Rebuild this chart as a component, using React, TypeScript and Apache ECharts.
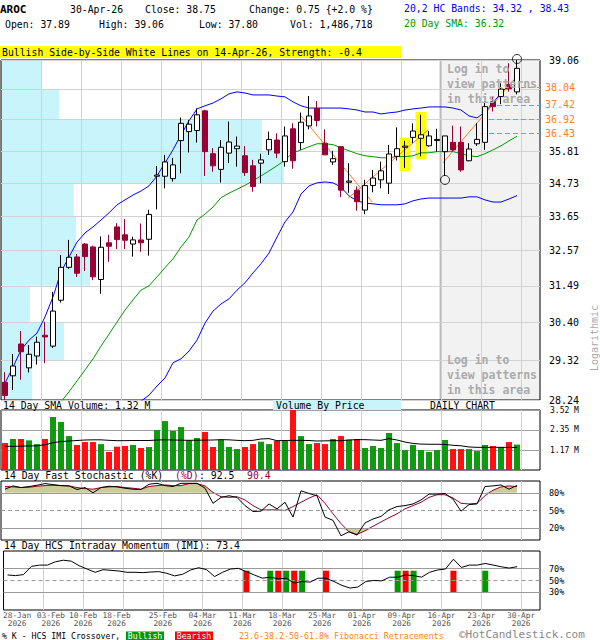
import React, { useEffect, useRef } from 'react';
import * as echarts from 'echarts';

const dates = ['28-Jan','29-Jan','30-Jan','02-Feb','03-Feb','04-Feb','05-Feb','06-Feb','09-Feb','10-Feb','11-Feb','12-Feb','13-Feb','17-Feb','18-Feb','19-Feb','20-Feb','23-Feb','24-Feb','25-Feb','26-Feb','27-Feb','02-Mar','03-Mar','04-Mar','05-Mar','06-Mar','09-Mar','10-Mar','11-Mar','12-Mar','13-Mar','16-Mar','17-Mar','18-Mar','19-Mar','20-Mar','23-Mar','24-Mar','25-Mar','26-Mar','27-Mar','30-Mar','31-Mar','01-Apr','02-Apr','06-Apr','07-Apr','08-Apr','09-Apr','10-Apr','13-Apr','14-Apr','15-Apr','16-Apr','17-Apr','20-Apr','21-Apr','22-Apr','23-Apr','24-Apr','27-Apr','28-Apr','29-Apr','30-Apr'];

const open = [28.72,28.90,29.79,29.12,29.45,30.04,29.73,31.06,32.05,32.37,32.77,32.68,31.68,32.81,33.31,33.06,32.77,32.90,32.92,34.96,34.96,34.88,36.17,36.48,36.52,37.21,35.72,35.19,35.74,35.89,35.65,35.31,35.40,35.85,36.19,35.45,36.58,36.10,36.68,37.30,36.08,35.44,35.96,34.76,34.50,33.85,34.65,34.84,34.73,35.63,35.94,36.28,36.25,35.99,36.17,35.79,36.11,36.11,35.48,36.06,36.11,37.54,37.72,38.16,37.89];
const high = [29.00,29.51,30.16,29.76,30.00,30.43,31.31,32.43,32.90,32.46,32.80,32.72,33.01,33.06,33.43,33.56,33.00,33.42,33.86,35.30,35.68,35.58,36.97,36.89,37.30,37.25,35.91,36.19,36.83,36.31,35.98,35.51,35.72,36.48,36.42,36.66,36.77,37.15,37.74,37.56,36.56,35.82,35.98,35.40,34.62,34.84,35.17,35.45,36.02,36.63,36.16,36.77,37.07,36.50,36.58,36.33,36.69,36.66,36.08,36.77,37.54,37.72,38.20,38.94,39.06];
const low = [28.24,28.51,28.79,28.99,29.21,29.25,29.68,30.99,32.00,31.76,31.94,31.66,31.25,32.22,32.61,32.61,32.38,32.53,32.41,33.87,34.56,34.78,35.06,35.76,36.10,34.97,35.11,34.75,35.40,35.28,34.97,34.45,34.73,35.68,35.57,35.28,35.21,35.85,36.56,36.66,35.68,35.34,34.27,34.41,33.83,33.72,34.43,34.56,34.37,35.49,35.24,36.08,35.63,35.96,35.79,34.97,35.79,35.11,35.46,35.99,35.85,37.19,37.45,37.90,37.80];
const close = [28.36,29.17,29.57,29.50,29.84,29.99,30.74,32.05,32.36,31.87,32.38,31.76,32.67,32.70,32.91,32.89,32.90,32.81,33.71,35.00,35.44,35.34,36.77,36.74,37.07,35.79,35.31,35.94,36.12,35.98,35.08,34.62,35.51,36.21,35.74,36.33,35.48,36.81,37.03,36.87,35.68,35.55,34.50,34.80,34.12,34.65,34.90,35.14,35.71,35.89,35.98,36.50,36.37,36.33,36.21,36.33,35.85,35.17,35.88,36.21,37.36,37.36,37.99,38.00,38.75];

// volume in millions of shares
const volume = [1.58,1.82,1.82,1.74,1.52,1.82,3.11,2.82,1.99,1.47,1.64,1.64,1.52,1.06,1.37,1.41,1.47,1.29,1.35,2.35,2.87,2.29,2.52,1.74,1.88,2.23,1.35,1.78,1.35,1.23,1.35,1.52,1.66,1.52,1.70,1.70,3.52,1.99,1.52,1.58,1.52,1.82,1.99,1.78,1.82,1.29,1.41,1.29,2.17,1.58,1.17,1.47,1.17,1.06,1.17,1.76,1.23,1.23,1.23,1.11,1.47,1.41,1.35,1.64,1.49];
const volSma = [1.39,1.39,1.40,1.41,1.42,1.48,1.60,1.67,1.70,1.73,1.76,1.77,1.77,1.74,1.72,1.72,1.73,1.73,1.73,1.76,1.77,1.76,1.75,1.74,1.75,1.75,1.76,1.78,1.77,1.74,1.72,1.74,1.82,1.84,1.72,1.73,1.74,1.74,1.73,1.70,1.71,1.72,1.72,1.76,1.78,1.78,1.76,1.74,1.84,1.76,1.64,1.56,1.52,1.51,1.51,1.50,1.45,1.42,1.35,1.33,1.33,1.33,1.33,1.33,1.32];

const upperBand = [28.70,29.14,29.62,29.90,30.10,30.57,31.16,31.91,32.37,32.83,33.12,33.31,33.53,33.76,34.02,34.18,34.34,34.47,34.64,34.97,35.41,35.85,36.37,36.86,37.28,37.39,37.49,37.64,37.82,37.89,37.85,37.78,37.78,37.78,37.74,37.71,37.53,37.39,37.31,37.31,37.31,37.31,37.31,37.28,37.24,37.17,37.17,37.10,37.14,37.17,37.24,37.28,37.31,37.35,37.35,37.35,37.31,37.24,37.03,36.96,37.17,37.49,37.85,38.14,38.43];
const sma20 = [26.10,26.40,26.70,27.00,27.30,27.60,27.89,28.19,28.46,28.76,29.06,29.37,29.73,30.07,30.42,30.77,31.07,31.36,31.49,31.76,32.04,32.31,32.68,32.99,33.53,33.72,33.95,34.25,34.40,34.53,34.66,34.81,34.97,35.14,35.31,35.51,35.75,35.85,35.96,36.06,36.06,36.03,35.92,35.82,35.72,35.65,35.62,35.58,35.58,35.62,35.62,35.65,35.75,35.75,35.79,35.79,35.79,35.72,35.65,35.62,35.72,35.85,35.99,36.16,36.32];
const lowerBand = [24.79,24.98,25.17,25.36,25.56,25.75,25.95,26.15,26.35,26.55,26.75,26.95,27.16,27.37,27.58,27.79,28.00,28.21,28.37,28.62,28.84,29.26,29.37,29.59,29.90,30.39,30.74,30.95,31.10,31.36,31.58,31.88,32.16,32.49,32.99,33.47,33.79,34.37,34.64,34.74,34.77,34.74,34.60,34.31,34.15,34.08,34.05,34.02,34.02,34.02,34.05,34.15,34.21,34.24,34.24,34.24,34.24,34.24,34.28,34.28,34.18,34.11,34.11,34.21,34.32];

const stochK = [86.1,91.7,88.9,90.6,92.8,95.6,93.9,92.2,91.7,85.6,88.9,80.0,88.9,91.1,90.0,87.8,86.1,85.6,94.4,96.1,92.2,90.6,96.1,96.1,96.1,87.8,62.2,72.2,75.0,72.2,58.3,48.3,48.9,61.1,52.8,63.9,38.9,83.3,78.9,75.0,38.9,33.3,7.2,13.9,8.3,28.9,35.6,40.0,51.1,56.7,58.3,61.1,67.8,77.8,77.8,78.9,69.4,48.9,60.0,61.1,90.6,91.7,93.3,86.1,92.5];
const stochD = [90.6,90.0,88.9,89.4,91.1,92.2,92.8,92.2,91.7,88.9,87.2,86.1,88.9,90.0,90.6,88.9,87.8,86.1,90.6,92.2,93.3,92.2,92.2,95.6,95.6,91.7,80.6,73.3,72.2,73.3,67.8,58.3,51.1,51.1,51.1,50.0,56.7,63.9,71.1,76.7,62.2,44.4,27.8,13.9,9.4,15.6,23.3,30.6,37.8,44.4,52.8,58.3,63.9,72.2,76.7,76.7,71.1,62.2,61.1,62.2,75.0,84.4,90.0,91.7,90.4];
const imi = [59.4,58.3,60.0,73.9,76.1,76.1,81.7,84.4,82.8,75.0,69.4,63.9,68.3,67.2,66.1,63.9,63.9,63.3,64.4,65.0,62.2,57.8,60.6,67.8,71.7,68.3,56.7,63.9,69.4,70.6,65.0,59.4,53.9,55.6,52.8,53.9,45.6,48.3,47.2,53.9,53.9,48.3,41.7,37.2,38.9,48.3,50.0,49.4,55.6,55.6,59.4,58.3,55.6,63.9,67.8,69.4,86.1,72.2,76.1,76.1,78.9,76.1,73.3,71.1,73.4];

const bullishCross = ['17-Mar','19-Mar','23-Mar','09-Apr','13-Apr','24-Apr'];
const bearishCross = ['12-Mar','18-Mar','20-Mar','26-Mar','10-Apr','20-Apr'];

const priceTicks = [28.24,29.32,30.40,31.49,32.57,33.65,34.73,35.81,36.90,37.98,39.06];
const hiddenPriceLabels = [36.90, 37.98];
// volume by price per band (bottom band first), millions
const volumeByPrice = [0.58,1.17,0.54,1.65,1.39,1.35,5.25,4.84,1.08,0.76];
const volTicks = [1.17,2.35,3.52];
const stochTicks = [20,50,80];
const imiTicks = [30,50,70];
const tickLabels = ['28-Jan','03-Feb','10-Feb','18-Feb','25-Feb','04-Mar','11-Mar','18-Mar','25-Mar','01-Apr','09-Apr','16-Apr','23-Apr','30-Apr'];

const fibLevels = [38.04,37.42,36.92,36.43];
const fibFrom = ['29-Apr','24-Apr','24-Apr','23-Apr'];
const trendLines = [
  [[36.9, 37.07], [45.9, 34.11]],
  [[42.9, 34.24], [52.9, 36.54]],
  [[54.75, 35.41], [64.1, 38.50]],
];
const highlightDates = ['10-Apr','14-Apr'];
const pivotHighDates = ['30-Apr'];
const pivotLowDates = ['17-Apr'];
const hiddenFrom = '16-Apr';

const FONT = '"DejaVu Sans Mono", "Liberation Mono", monospace';
const X_MIN = -0.5;
const X_MAX = 66.875;
const RED = '#990033';
const ORANGE = '#ff7f1e';
// label nudges (in bar widths) so the crowded early date labels do not collide
const LABEL_NUDGE: Record<string, number> = { '28-Jan': 0.7, '03-Feb': 0.95, '18-Feb': -0.8 };

export default function App() {
  const ref = useRef<HTMLDivElement>(null);
  useEffect(() => {
    const chart = echarts.init(ref.current!, null, { renderer: 'svg' });
    const idx = (d: string) => dates.indexOf(d);
    const gridTicks = tickLabels.slice(1).map(d => idx(d) + 0.5);
    const labelPos = tickLabels.map(d => idx(d) + 0.5 + (LABEL_NUDGE[d] || 0));
    const labelText = new Map<string, string>();
    tickLabels.forEach((d, k) => labelText.set(labelPos[k].toFixed(3), d));

    const xAxisFor = (gridIndex: number, labels: boolean) => ({
      type: 'value', gridIndex, min: X_MIN, max: X_MAX,
      axisLine: { show: false },
      axisTick: { show: false, customValues: gridTicks },
      splitLine: { show: true, lineStyle: { color: '#d2d2d2', width: 1 } },
      axisLabel: labels ? {
        show: true, customValues: labelPos, showMinLabel: true, showMaxLabel: true,
        formatter: (v: number) => (labelText.get(Number(v).toFixed(3)) || '') + '\n2026',
        fontFamily: FONT, fontSize: 7.8, color: '#555', lineHeight: 8, margin: 1,
      } : { show: false },
    });

    const T = (x: number, y: number, text: string, o: any = {}) => ({
      type: 'text', x, y, z: 100, rotation: o.rotation || 0,
      style: {
        text, fill: o.fill || '#000',
        font: `${o.weight || 'normal'} ${o.size || 9.8}px ${FONT}`,
        align: o.align || 'left', verticalAlign: o.va || 'middle',
        lineHeight: o.lh,
      },
    });
    const R = (x: number, y: number, w: number, h: number, fill: string) => ({
      type: 'rect', z: 99, shape: { x, y, width: w, height: h }, style: { fill },
    });

    const line = (data: number[], xi: number, color: string, z = 4, extra: any = {}) => ({
      type: 'line', xAxisIndex: xi, yAxisIndex: xi, data: data.map((v, i) => [i, v]),
      symbol: 'none', lineStyle: { color, width: 1 }, z, silent: true, ...extra,
    });

    const refLines = (xi: number, vals: number[]) => ({
      type: 'line', xAxisIndex: xi, yAxisIndex: xi, data: [[X_MIN, vals[1]]], symbol: 'none',
      lineStyle: { opacity: 0 }, z: 1, silent: true,
      markLine: {
        silent: true, symbol: ['none', 'none'], label: { show: false },
        lineStyle: { color: '#9a9a9a', width: 1, type: 'solid' },
        data: [{ yAxis: vals[2] }, { yAxis: vals[1], lineStyle: { type: [4, 3] } }, { yAxis: vals[0] }],
      },
    });

    const option: any = {
      animation: false,
      textStyle: { fontFamily: FONT },
      grid: [
        { left: 1, top: 60, width: 539, height: 340, show: true, borderColor: '#000', borderWidth: 1 },
        { left: 1, top: 410, width: 539, height: 60, show: true, borderColor: '#000', borderWidth: 1 },
        { left: 1, top: 481, width: 539, height: 59, show: true, borderColor: '#000', borderWidth: 1 },
        { left: 1, top: 551, width: 539, height: 59, show: true, borderColor: '#000', borderWidth: 1 },
      ],
      xAxis: [
        xAxisFor(0, false), xAxisFor(1, false), xAxisFor(2, false), xAxisFor(3, true),
        { type: 'value', gridIndex: 0, min: 0, max: 10, show: false },
      ],
      yAxis: [
        {
          type: 'log', logBase: 10, gridIndex: 0, position: 'right', min: priceTicks[0], max: priceTicks[priceTicks.length - 1],
          axisLine: { show: false }, axisTick: { show: false, customValues: priceTicks },
          splitLine: { show: true, lineStyle: { color: '#d2d2d2', width: 1 } },
          axisLabel: {
            customValues: priceTicks.filter(p => !hiddenPriceLabels.includes(p)),
            formatter: (v: number) => v.toFixed(2), fontFamily: FONT, fontSize: 10, color: '#000', margin: 9,
          },
        },
        {
          type: 'value', gridIndex: 1, position: 'right', min: 0, max: 3.52,
          axisLine: { show: false }, axisTick: { show: false, customValues: volTicks },
          splitLine: { show: true, lineStyle: { color: '#a0a0a0', width: 1 } },
          axisLabel: { customValues: volTicks, formatter: (v: number) => v.toFixed(2) + ' M', fontFamily: FONT, fontSize: 8, color: '#000', margin: 10 },
        },
        {
          type: 'value', gridIndex: 2, position: 'right', min: 0, max: 100,
          axisLine: { show: false }, axisTick: { show: false, customValues: stochTicks }, splitLine: { show: false },
          axisLabel: { customValues: stochTicks, formatter: (v: number) => v + '%', fontFamily: FONT, fontSize: 8.5, color: '#000', margin: 9 },
        },
        {
          type: 'value', gridIndex: 3, position: 'right', min: 0, max: 100,
          axisLine: { show: false }, axisTick: { show: false, customValues: imiTicks }, splitLine: { show: false },
          axisLabel: { customValues: imiTicks, formatter: (v: number) => v + '%', fontFamily: FONT, fontSize: 8.5, color: '#000', margin: 9 },
        },
      ],
      series: [
        // volume by price bands
        {
          type: 'custom', xAxisIndex: 4, yAxisIndex: 0, z: -1, silent: true,
          data: volumeByPrice.map((v, k) => [priceTicks[k], priceTicks[k + 1], v]),
          encode: { x: 2, y: [0, 1] },
          renderItem: (p: any, api: any) => {
            const a = api.coord([0, api.value(1)]);
            const b = api.coord([api.value(2), api.value(0)]);
            return { type: 'rect', shape: { x: a[0], y: a[1], width: b[0] - a[0], height: b[1] - a[1] }, style: { fill: '#c8f5fc' } };
          },
        },
        // hidden-pattern area
        {
          type: 'custom', xAxisIndex: 0, yAxisIndex: 0, z: -1, silent: true,
          data: [[idx(hiddenFrom) + 0.4, X_MAX]],
          encode: { x: [0, 1] },
          renderItem: (p: any, api: any) => {
            const a = api.coord([api.value(0), priceTicks[priceTicks.length - 1]]);
            const b = api.coord([api.value(1), priceTicks[0]]);
            return {
              type: 'group', children: [
                { type: 'rect', shape: { x: a[0], y: a[1], width: b[0] - a[0], height: b[1] - a[1] }, style: { fill: '#f2f2f2' } },
                { type: 'line', shape: { x1: a[0], y1: a[1], x2: a[0], y2: b[1] }, style: { stroke: '#a0a0a0', lineWidth: 1 } },
              ],
            };
          },
        },
        // pattern highlight
        {
          type: 'custom', xAxisIndex: 0, yAxisIndex: 0, z: 1, silent: true,
          data: highlightDates.map(d => { const i = idx(d); return [i, high[i], low[i]]; }),
          encode: { x: 0, y: [1, 2] },
          renderItem: (p: any, api: any) => {
            const t = api.coord([api.value(0), api.value(1)]);
            const b = api.coord([api.value(0), api.value(2)]);
            return { type: 'rect', shape: { x: t[0] - 5.5, y: t[1] - 3, width: 11, height: b[1] - t[1] + 6 }, style: { fill: '#ffff00' } };
          },
        },
        line(upperBand, 0, '#0000ff', 4, {
          markLine: {
            silent: true, symbol: ['none', 'none'],
            lineStyle: { color: ORANGE, type: [5, 3], width: 1 },
            label: { show: true, position: 'end', distance: 5, color: ORANGE, fontFamily: FONT, fontSize: 10, formatter: (p: any) => p.name },
            data: fibLevels.map((lv, k) => [
              { name: lv.toFixed(2), coord: [idx(fibFrom[k]) + 0.5, lv] },
              { coord: [X_MAX, lv] },
            ]),
          },
        }),
        line(lowerBand, 0, '#0000ff'),
        line(sma20, 0, '#009900'),
        ...trendLines.map(tl => ({
          type: 'line', xAxisIndex: 0, yAxisIndex: 0, data: tl, symbol: 'none', silent: true,
          lineStyle: { color: ORANGE, width: 1 }, z: 4,
        })),
        {
          type: 'candlestick', xAxisIndex: 0, yAxisIndex: 0, z: 5, barWidth: 5, silent: true,
          data: dates.map((_, i) => [i, open[i], close[i], low[i], high[i]]),
          itemStyle: { color: '#ffffff', color0: RED, borderColor: '#000000', borderColor0: RED, borderWidth: 1 },
        },
        {
          type: 'scatter', xAxisIndex: 0, yAxisIndex: 0, z: 6, silent: true, symbol: 'circle', symbolSize: 9,
          itemStyle: { color: 'rgba(0,0,0,0)', borderColor: '#000', borderWidth: 1 },
          data: [
            ...pivotHighDates.map(d => ({ value: [idx(d), high[idx(d)]], symbolOffset: [0, -1] })),
            ...pivotLowDates.map(d => ({ value: [idx(d), low[idx(d)]], symbolOffset: [0, 4] })),
          ],
        },
        // volume
        {
          type: 'bar', xAxisIndex: 1, yAxisIndex: 1, barWidth: 6, z: 3, silent: true,
          data: volume.map((v, i) => ({ value: [i, v], itemStyle: { color: close[i] >= open[i] ? '#119911' : '#ff1111' } })),
        },
        line(volSma, 1, '#000000', 5),
        // stochastic
        refLines(2, stochTicks),
        {
          type: 'line', xAxisIndex: 2, yAxisIndex: 2, symbol: 'none', silent: true, z: 2,
          data: stochD.map((v, i) => [i, Math.max(v, 80)]),
          lineStyle: { width: 0 }, areaStyle: { origin: 80, color: '#cccc99', opacity: 1 },
        },
        {
          type: 'line', xAxisIndex: 2, yAxisIndex: 2, symbol: 'none', silent: true, z: 2,
          data: stochD.map((v, i) => [i, Math.min(v, 20)]),
          lineStyle: { width: 0 }, areaStyle: { origin: 20, color: '#cccc99', opacity: 1 },
        },
        line(stochD, 2, RED, 4),
        line(stochK, 2, '#000000', 5),
        // IMI
        refLines(3, imiTicks),
        {
          type: 'custom', xAxisIndex: 3, yAxisIndex: 3, z: 3, silent: true,
          data: [...bullishCross.map(d => [idx(d), 1]), ...bearishCross.map(d => [idx(d), 0])],
          encode: { x: 0 },
          renderItem: (p: any, api: any) => {
            const t = api.coord([api.value(0), imiTicks[2]]);
            const b = api.coord([api.value(0), imiTicks[0]]);
            return { type: 'rect', shape: { x: t[0] - 3, y: t[1] + 2, width: 6, height: b[1] - t[1] - 2 }, style: { fill: api.value(1) ? '#009900' : '#ff0000' } };
          },
        },
        line(imi, 3, '#000000', 5),
      ],
      graphic: [
        T(0, 9, 'AROC', { weight: 'bold', size: 11 }),
        T(70, 9, '30-Apr-26'),
        T(145, 9, 'Close: 38.75'),
        T(249, 9, 'Change: 0.75 {+2.0 %}'),
        T(5, 24, 'Open: 37.89'),
        T(99, 24, 'High: 39.06'),
        T(199, 24, 'Low: 37.80'),
        T(290, 24, 'Vol: 1,486,718'),
        T(404, 8, '20,2 HC Bands: 34.32 , 38.43', { fill: '#0000ff' }),
        T(404, 23, '20 Day SMA: 36.32', { fill: '#009900' }),
        R(0, 46, 401, 12, '#ffff00'),
        T(2, 52, 'Bullish Side-by-Side White Lines on 14-Apr-26, Strength: -0.4'),
        T(447, 61, 'Log in to\nview patterns\nin this area', { weight: 'bold', size: 11.5, fill: '#aaaaaa', va: 'top', lh: 15 }),
        T(447, 352, 'Log in to\nview patterns\nin this area', { weight: 'bold', size: 11.5, fill: '#aaaaaa', va: 'top', lh: 15 }),
        T(594, 338, 'Logarithmic', { fill: '#aaaaaa', align: 'center', rotation: Math.PI / 2, size: 10 }),
        T(3, 405, '14 Day SMA Volume: 1.32 M'),
        R(273, 400, 128, 10, '#c8f5fc'),
        T(276, 405, 'Volume By Price'),
        T(430, 405, 'DAILY CHART'),
        T(4, 475, '14 Day Fast Stochastic (%K)'),
        T(175, 475, '(%D)', { fill: RED }),
        T(199, 475, ': 92.5'),
        T(247, 475, '90.4', { fill: RED }),
        T(4, 545, '14 Day HCS Intraday Momentum (IMI): 73.4'),
        T(2, 635.5, '% K - HCS IMI Crossover,', { size: 8.2 }),
        R(126, 631.5, 38, 8.5, '#009900'),
        T(145, 636, 'Bullish', { size: 8.2, fill: '#ffffff', align: 'center' }),
        R(175, 631.5, 38, 8.5, '#ff0000'),
        T(194, 636, 'Bearish', { size: 8.2, fill: '#ffffff', align: 'center' }),
        T(239, 635.5, '23.6-38.2-50-61.8% Fibonacci Retracements', { size: 8.3, fill: ORANGE }),
        T(459, 634.5, '\u00A9HotCandlestick.com', { size: 11, fill: '#888888' }),
      ],
    };
    chart.setOption(option);
    return () => chart.dispose();
  }, []);
  return <div ref={ref} style={{ position: 'fixed', left: 0, top: 0, width: 600, height: 640, background: '#ffffff' }} />;
}
